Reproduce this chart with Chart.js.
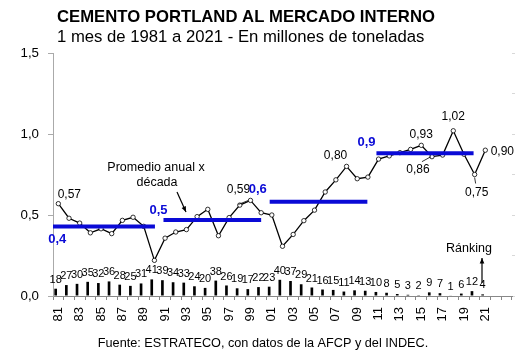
<!DOCTYPE html>
<html>
<head>
<meta charset="utf-8">
<script src="https://cdn.jsdelivr.net/npm/chart.js@4.4.1/dist/chart.umd.min.js"></script>
<style>
  html, body { margin: 0; padding: 0; background: #fff; }
  #wrap { width: 530px; height: 354px; }
</style>
</head>
<body>
<div id="wrap"><canvas id="chart"></canvas></div>
<script>
// Years on the axis (two digits, 1981..2021)
var years = ['81','82','83','84','85','86','87','88','89','90',
             '91','92','93','94','95','96','97','98','99','00',
             '01','02','03','04','05','06','07','08','09','10',
             '11','12','13','14','15','16','17','18','19','20','21'];
var spareSlots = ['', ''];   // two empty categories after 2021

// Consumo de cemento, 1 mes (millones de toneladas)
var consumo = [0.57, 0.48, 0.45, 0.39, 0.415, 0.385, 0.467, 0.486, 0.43, 0.22,
               0.357, 0.395, 0.41, 0.49, 0.535, 0.372, 0.484, 0.561, 0.59, 0.514,
               0.50, 0.307, 0.38, 0.465, 0.53, 0.642, 0.717, 0.80, 0.724, 0.734,
               0.845, 0.865, 0.885, 0.905, 0.93, 0.86, 0.87, 1.02, 0.875, 0.75, 0.90];

// Ranking of each year (1 = best)
var ranking = [18, 27, 30, 35, 32, 36, 28, 25, 31, 41,
               39, 34, 33, 24, 20, 38, 26, 19, 17, 22,
               23, 40, 37, 29, 21, 16, 15, 11, 14, 13,
               10, 8, 5, 3, 2, 9, 7, 1, 6, 12, 4];

// Decade averages (promedio anual x decada)
var decadeNames = ['0,4', '0,5', '0,6', '0,9'];
var decadeAvg   = [0.429, 0.469, 0.582, 0.881];
var decadeFrom  = [1980.05, 1990.85, 2000.8, 2010.8];
var decadeTo    = [1990.05, 2000.0, 2009.95, 2019.9];

// Which points get their value written next to them
var labelledYears = ['81', '99', '08', '15', '16', '18', '20', '21'];

var FONT = "'Liberation Sans', Arial, sans-serif";
var BLUE = '#0a0ad6';

// offsets of the value labels from their point (style only)
var notePlace = {
    '81': {dx: 11, dy: -9},
    '99': {dx: -12, dy: -11, leader: [-12, 4, -2, 0]},
    '08': {dx: -11, dy: -11},
    '15': {dx: 0, dy: -11},
    '16': {dx: -14, dy: 13, leader: [-10, 5, -1, 0]},
    '18': {dx: 0, dy: -14},
    '20': {dx: 2, dy: 18, leader: [0, 3, 1, 9]},
    '21': {dx: 17, dy: 1}
};
var decadePlace = [{dx: 9, dy: 13}, {dx: -5, dy: -10}, {dx: -12, dy: -12}, {dx: -10, dy: -11}];

function comma(v) { return v.toFixed(2).replace('.', ','); }

function arrow(ctx, x1, y1, x2, y2) {
    var a = Math.atan2(y2 - y1, x2 - x1);
    ctx.beginPath();
    ctx.moveTo(x1, y1);
    ctx.lineTo(x2, y2);
    ctx.stroke();
    ctx.beginPath();
    ctx.moveTo(x2, y2);
    ctx.lineTo(x2 - 6 * Math.cos(a - 0.4), y2 - 6 * Math.sin(a - 0.4));
    ctx.lineTo(x2 - 6 * Math.cos(a + 0.4), y2 - 6 * Math.sin(a + 0.4));
    ctx.closePath();
    ctx.fill();
}

// Draws titles, labels and little arrows on top of the chart
var notesPlugin = {
    id: 'notes',
    afterDatasetsDraw: function(chart) {
        var ctx = chart.ctx;
        ctx.save();
        ctx.fillStyle = '#000';
        ctx.strokeStyle = '#000';

        // ranking numbers above the bars
        var bars = chart.getDatasetMeta(0).data;
        ctx.font = '11px ' + FONT;
        ctx.textAlign = 'center';
        ctx.textBaseline = 'middle';
        bars.forEach(function(b, i) {
            ctx.fillText(String(ranking[i]), b.x, b.y - 9);
        });

        // values next to selected points
        var pts = chart.getDatasetMeta(1).data;
        ctx.font = '12px ' + FONT;
        ctx.lineWidth = 0.8;
        labelledYears.forEach(function(y) {
            var i = years.indexOf(y);
            var p = pts[i];
            var pl = notePlace[y];
            ctx.fillText(comma(consumo[i]), p.x + pl.dx, p.y + pl.dy);
            if (pl.leader) {
                ctx.beginPath();
                ctx.moveTo(p.x + pl.leader[0], p.y + pl.leader[1]);
                ctx.lineTo(p.x + pl.leader[2], p.y + pl.leader[3]);
                ctx.stroke();
            }
        });

        // decade average labels
        ctx.font = 'bold 13px ' + FONT;
        ctx.fillStyle = BLUE;
        var xs = chart.scales.x2, ys = chart.scales.y;
        decadeNames.forEach(function(n, i) {
            var x = xs.getPixelForValue(decadeFrom[i]);
            var yv = ys.getPixelForValue(decadeAvg[i]);
            ctx.fillText(n, x + decadePlace[i].dx, yv + decadePlace[i].dy);
        });

        // notes with arrows
        ctx.fillStyle = '#000';
        ctx.font = '12.5px ' + FONT;
        ctx.fillText('Promedio anual x', 156, 168);
        ctx.fillText('década', 157, 183);
        ctx.lineWidth = 1.2;
        arrow(ctx, 177, 192, 186, 212);
        ctx.fillText('Ránking', 469, 249);
        arrow(ctx, 482, 283, 482, 258);

        ctx.restore();
    },
    afterDraw: function(chart) {
        var ctx = chart.ctx;
        ctx.save();
        ctx.fillStyle = '#000';
        ctx.textBaseline = 'middle';
        ctx.textAlign = 'left';
        ctx.font = 'bold 16.7px ' + FONT;
        ctx.fillText('CEMENTO PORTLAND AL MERCADO INTERNO', 57, 17);
        ctx.font = '16.7px ' + FONT;
        ctx.fillText('1 mes de 1981 a 2021 - En millones de toneladas', 57, 37);
        ctx.textAlign = 'center';
        ctx.font = '12.7px ' + FONT;
        ctx.fillText('Fuente: ESTRATECO, con datos de la AFCP y del INDEC.', 263, 343);
        ctx.restore();
    }
};

var decadeSets = decadeNames.map(function(n, i) {
    return {
        type: 'line',
        label: 'Promedio ' + n,
        xAxisID: 'x2',
        yAxisID: 'y',
        data: [{x: decadeFrom[i], y: decadeAvg[i]}, {x: decadeTo[i], y: decadeAvg[i]}],
        borderColor: BLUE,
        borderWidth: 4,
        pointRadius: 0,
        order: 0
    };
});

new Chart(document.getElementById('chart'), {
    type: 'bar',
    data: {
        labels: years.concat(spareSlots),
        datasets: [
            {
                label: 'Ránking',
                data: ranking,
                yAxisID: 'y2',
                backgroundColor: '#000',
                barPercentage: 0.5,
                categoryPercentage: 1.0,
                order: 2
            },
            {
                type: 'line',
                label: 'Consumo',
                data: consumo,
                yAxisID: 'y',
                borderColor: '#000',
                borderWidth: 1.3,
                pointStyle: 'circle',
                pointRadius: 2.2,
                pointBackgroundColor: '#fff',
                pointBorderColor: '#000',
                pointBorderWidth: 0.8,
                tension: 0,
                order: 1
            }
        ].concat(decadeSets)
    },
    options: {
        responsive: true,
        maintainAspectRatio: false,
        animation: false,
        layout: { padding: { top: 53, left: 0, right: 0, bottom: 28 } },
        font: { family: FONT },
        plugins: {
            legend: { display: false },
            tooltip: { enabled: false }
        },
        scales: {
            x: {
                grid: { drawOnChartArea: false, tickLength: 4, color: '#888', offset: true },
                border: { color: '#888' },
                ticks: {
                    autoSkip: false, minRotation: 90, maxRotation: 90, padding: 7,
                    color: '#000', font: { size: 13, family: FONT },
                    callback: function(v, i) { return (i % 2 === 0 && i < years.length) ? years[i] : ''; }
                },
                afterFit: function(s) { s.height = 30; }
            },
            x2: { type: 'linear', display: false, offset: false, bounds: 'data', min: 1980.5, max: 2023.5 },
            y: {
                position: 'left', min: 0, max: 1.5,
                grid: { drawOnChartArea: false, tickLength: 5, color: '#aaa' },
                border: { color: '#aaa' },
                ticks: {
                    stepSize: 0.5, padding: 9, color: '#000', font: { size: 13.3, family: FONT },
                    callback: function(v) { return v.toFixed(1).replace('.', ','); }
                },
                afterFit: function(s) { s.width = 53; }
            },
            y2: {
                position: 'right', min: 0, max: 600,
                grid: { drawOnChartArea: false, tickLength: 3, color: '#d8d8d8' },
                border: { display: false },
                ticks: { stepSize: 100, display: false },
                afterFit: function(s) { s.width = 18; }
            }
        }
    },
    plugins: [notesPlugin]
});
</script>
</body>
</html>
